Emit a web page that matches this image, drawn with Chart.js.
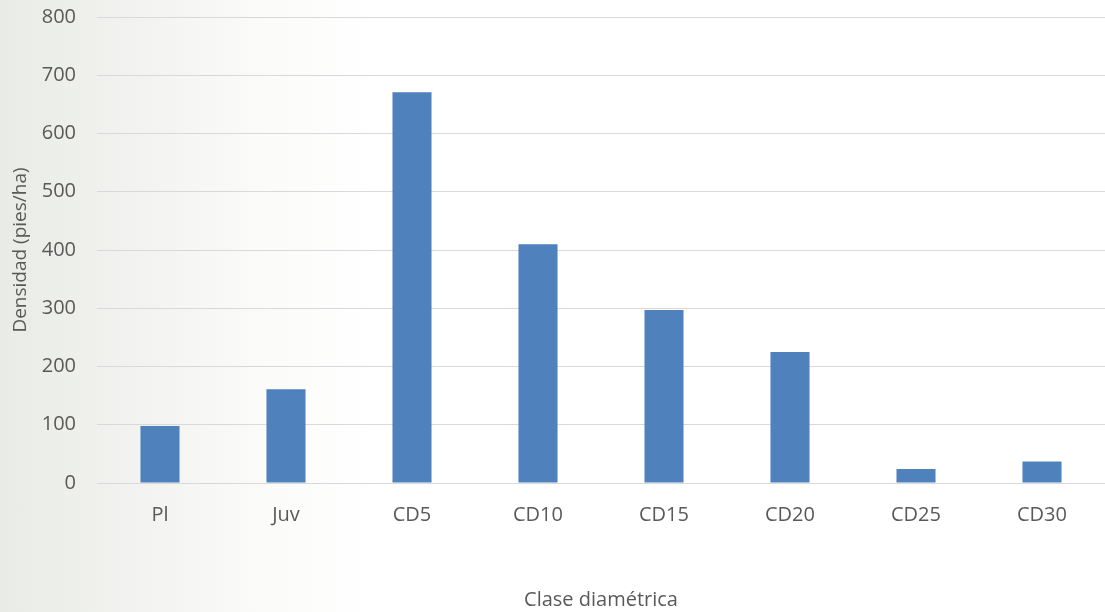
<!DOCTYPE html>
<html>
<head>
<meta charset="utf-8">
<script src="https://cdn.jsdelivr.net/npm/chart.js@4/dist/chart.umd.min.js"></script>
<style>
  html, body {
    margin: 0;
    padding: 0;
  }
  body {
    width: 1105px;
    height: 612px;
    background: linear-gradient(90deg, #e9ebe6 0%, #f2f3f0 12%, #fbfbfa 24%, #ffffff 34%);
  }
  #wrap {
    position: relative;
    width: 1105px;
    height: 612px;
  }
</style>
</head>
<body>
<div id="wrap"><canvas id="chart"></canvas></div>
<script>
const categories = ["Pl", "Juv", "CD5", "CD10", "CD15", "CD20", "CD25", "CD30"];
const densityValues = [98, 161, 671, 410, 297, 225, 24, 37];
const yTicks = [0, 100, 200, 300, 400, 500, 600, 700, 800];

const textColor = "#595959";
const fontFamily = "'Open Sans', 'Liberation Sans', sans-serif";

new Chart(document.getElementById("chart"), {
  type: "bar",
  data: {
    labels: categories,
    datasets: [
      {
        label: "Densidad",
        data: densityValues,
        backgroundColor: "#4f81bd",
        categoryPercentage: 1,
        barPercentage: 0.31,
      },
    ],
  },
  options: {
    responsive: true,
    maintainAspectRatio: false,
    animation: false,
    layout: {
      padding: { top: 17, right: 0, bottom: 0, left: 0 },
    },
    plugins: {
      legend: { display: false },
      tooltip: { enabled: false },
    },
    scales: {
      x: {
        grid: { display: false },
        border: { color: "#d9d9d9", width: 1 },
        ticks: {
          color: textColor,
          font: { family: fontFamily, size: 20 },
          padding: 12,
        },
        title: {
          display: true,
          text: "Clase diamétrica",
          color: textColor,
          font: { family: fontFamily, size: 20 },
          padding: { top: 46, bottom: 0 },
        },
        afterFit: (scale) => {
          scale.height = 129;
        },
      },
      y: {
        min: 0,
        max: 800,
        afterBuildTicks: (scale) => {
          scale.ticks = yTicks.map((value) => ({ value }));
        },
        grid: { color: "#d9d9d9", lineWidth: 1, drawTicks: false },
        border: { display: false },
        ticks: {
          color: textColor,
          font: { family: fontFamily, size: 20 },
          padding: 21,
        },
        title: {
          display: true,
          text: "Densidad (pies/ha)",
          color: textColor,
          font: { family: fontFamily, size: 19 },
          padding: { top: 9, bottom: 0 },
        },
        afterFit: (scale) => {
          scale.width = 97;
          // keep the top gridline where the layout padding puts it
          scale.paddingTop = 0;
          scale.paddingBottom = 0;
        },
      },
    },
  },
});
</script>
</body>
</html>
